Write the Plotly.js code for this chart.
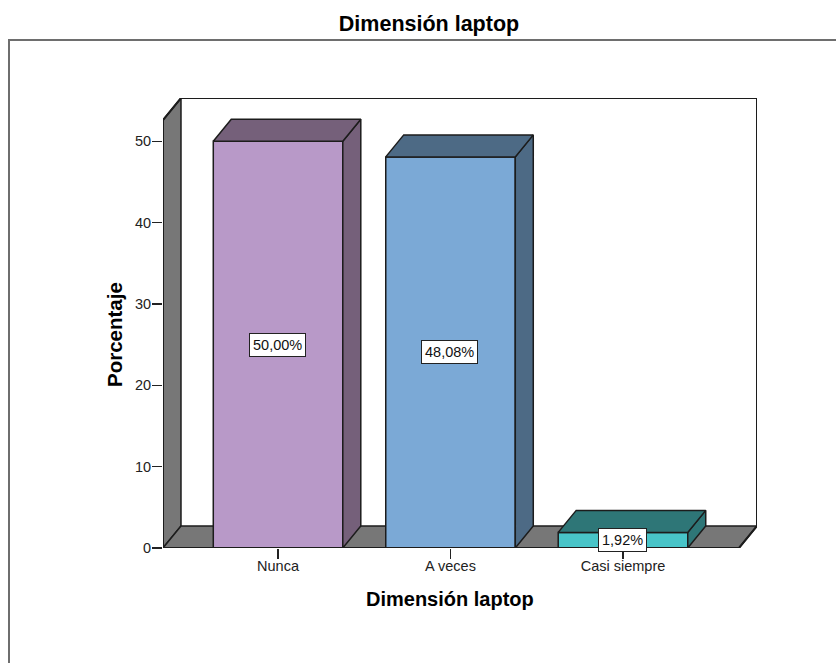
<!DOCTYPE html>
<html>
<head>
<meta charset="utf-8">
<script src="https://cdn.plot.ly/plotly-3.0.1.min.js"></script>
<style>html,body{margin:0;padding:0;background:#fff;overflow:hidden}#chart{width:836px;height:663px}</style>
</head>
<body>
<div id="chart"></div>
<script>
const categories = ["Nunca", "A veces", "Casi siempre"];
const percentages = [50.00, 48.08, 1.92];
const valueLabels = ["50,00%", "48,08%", "1,92%"];
const yTicks = [0, 10, 20, 30, 40, 50];
const frontColors = ["#B899C8", "#7BA9D6", "#48C4C8"];
const sideColors = ["#75607A", "#4D6A85", "#2E7677"];
const wallColor = "#777777";
const edgeColor = "#1c1c1c";

const W = 836, H = 663;
const m = {l: 163, r: 79, t: 98, b: 115};
const plotW = W - m.l - m.r, plotH = H - m.t - m.b;
const xMin = -0.667, xMax = 2.777, yMax = 55.32;
const barW = 0.751, dx = 0.1043, dy = 2.705;
const px = p => (p - m.l) / plotW;
const py = p => 1 - (p - m.t) / plotH;

const traces = [{
  type: "bar",
  x: categories.map((_, i) => i),
  y: percentages,
  width: barW,
  marker: {color: frontColors, line: {color: edgeColor, width: 1.5}},
  hoverinfo: "skip",
  showlegend: false
}];

function face(xs, ys, color) {
  return {type: "scatter", mode: "lines", x: xs, y: ys, fill: "toself", fillcolor: color,
    line: {color: edgeColor, width: 1.5}, hoverinfo: "skip", showlegend: false};
}
percentages.forEach((v, i) => {
  const L = i - barW / 2, R = i + barW / 2;
  traces.push(face([R, R + dx, R + dx, R, R], [0, dy, v + dy, v, 0], sideColors[i]));
  traces.push(face([L, L + dx, R + dx, R, L], [v, v + dy, v + dy, v, v], sideColors[i]));
});

traces.push({
  type: "scatter", mode: "lines", cliponaxis: false,
  x: [xMin, xMin, xMax - dx, xMax, xMax, xMin + dx, xMin],
  y: [yMax - dy, 0, 0, dy, yMax, yMax, yMax - dy],
  line: {color: edgeColor, width: 2}, hoverinfo: "skip", showlegend: false
});

const wallPath = `M${xMin},0 L${xMin + dx},${dy} L${xMin + dx},${yMax} L${xMin},${yMax - dy} Z`;
const floorPath = `M${xMin},0 L${xMin + dx},${dy} L${xMax},${dy} L${xMax - dx},0 Z`;

const shapes = [
  {type: "path", layer: "below", xref: "x", yref: "y", path: wallPath, fillcolor: wallColor, line: {color: edgeColor, width: 1.5}},
  {type: "path", layer: "below", xref: "x", yref: "y", path: floorPath, fillcolor: wallColor, line: {color: edgeColor, width: 1.5}},
  {type: "rect", layer: "below", xref: "paper", yref: "paper",
    x0: px(9), x1: px(W + 10), y0: py(40), y1: py(H + 10),
    fillcolor: "rgba(0,0,0,0)", line: {color: "#6e6e6e", width: 2}}
];

const font = "Liberation Sans, Arial, sans-serif";
const annotations = percentages.map((v, i) => ({
  x: i - 0.005, y: v / 2, xref: "x", yref: "y", text: valueLabels[i], showarrow: false,
  bgcolor: "#ffffff", bordercolor: "#222222", borderwidth: 1, borderpad: 3,
  font: {family: font, size: 14.5, color: "#111"}
}));
annotations.push({
  xref: "paper", yref: "paper", x: px(450), y: py(599), xanchor: "center", yanchor: "middle",
  text: "<b>Dimensión laptop</b>", showarrow: false, font: {family: font, size: 20, color: "#000"}
});
annotations.push({
  xref: "paper", yref: "paper", x: px(114), y: py(335), xanchor: "center", yanchor: "middle",
  text: "<b>Porcentaje</b>", textangle: -90, showarrow: false, font: {family: font, size: 20.5, color: "#000"}
});

const layout = {
  width: W, height: H,
  margin: m,
  paper_bgcolor: "#ffffff",
  plot_bgcolor: "#ffffff",
  showlegend: false,
  title: {text: "<b>Dimensión laptop</b>", font: {family: font, size: 21.5, color: "#000"},
    x: 429 / W, xanchor: "center", y: 1 - 23 / H, yanchor: "middle"},
  xaxis: {range: [xMin, xMax], tickmode: "array", tickvals: categories.map((_, i) => i), ticktext: categories,
    ticks: "outside", ticklen: 10, tickwidth: 1.5, tickcolor: "#222", showgrid: false, zeroline: false, showline: false,
    ticklabelstandoff: -5,
    tickfont: {family: font, size: 14.5, color: "#222"}},
  yaxis: {range: [0, yMax], tickmode: "array", tickvals: yTicks, ticktext: yTicks.map(String),
    ticks: "outside", ticklen: 10, tickwidth: 1.5, tickcolor: "#222", showgrid: false, zeroline: false, showline: false,
    ticklabelstandoff: -2,
    tickfont: {family: font, size: 14.5, color: "#222"}},
  shapes, annotations
};
Plotly.newPlot("chart", traces, layout, {displayModeBar: false, staticPlot: true});
</script>
</body>
</html>
